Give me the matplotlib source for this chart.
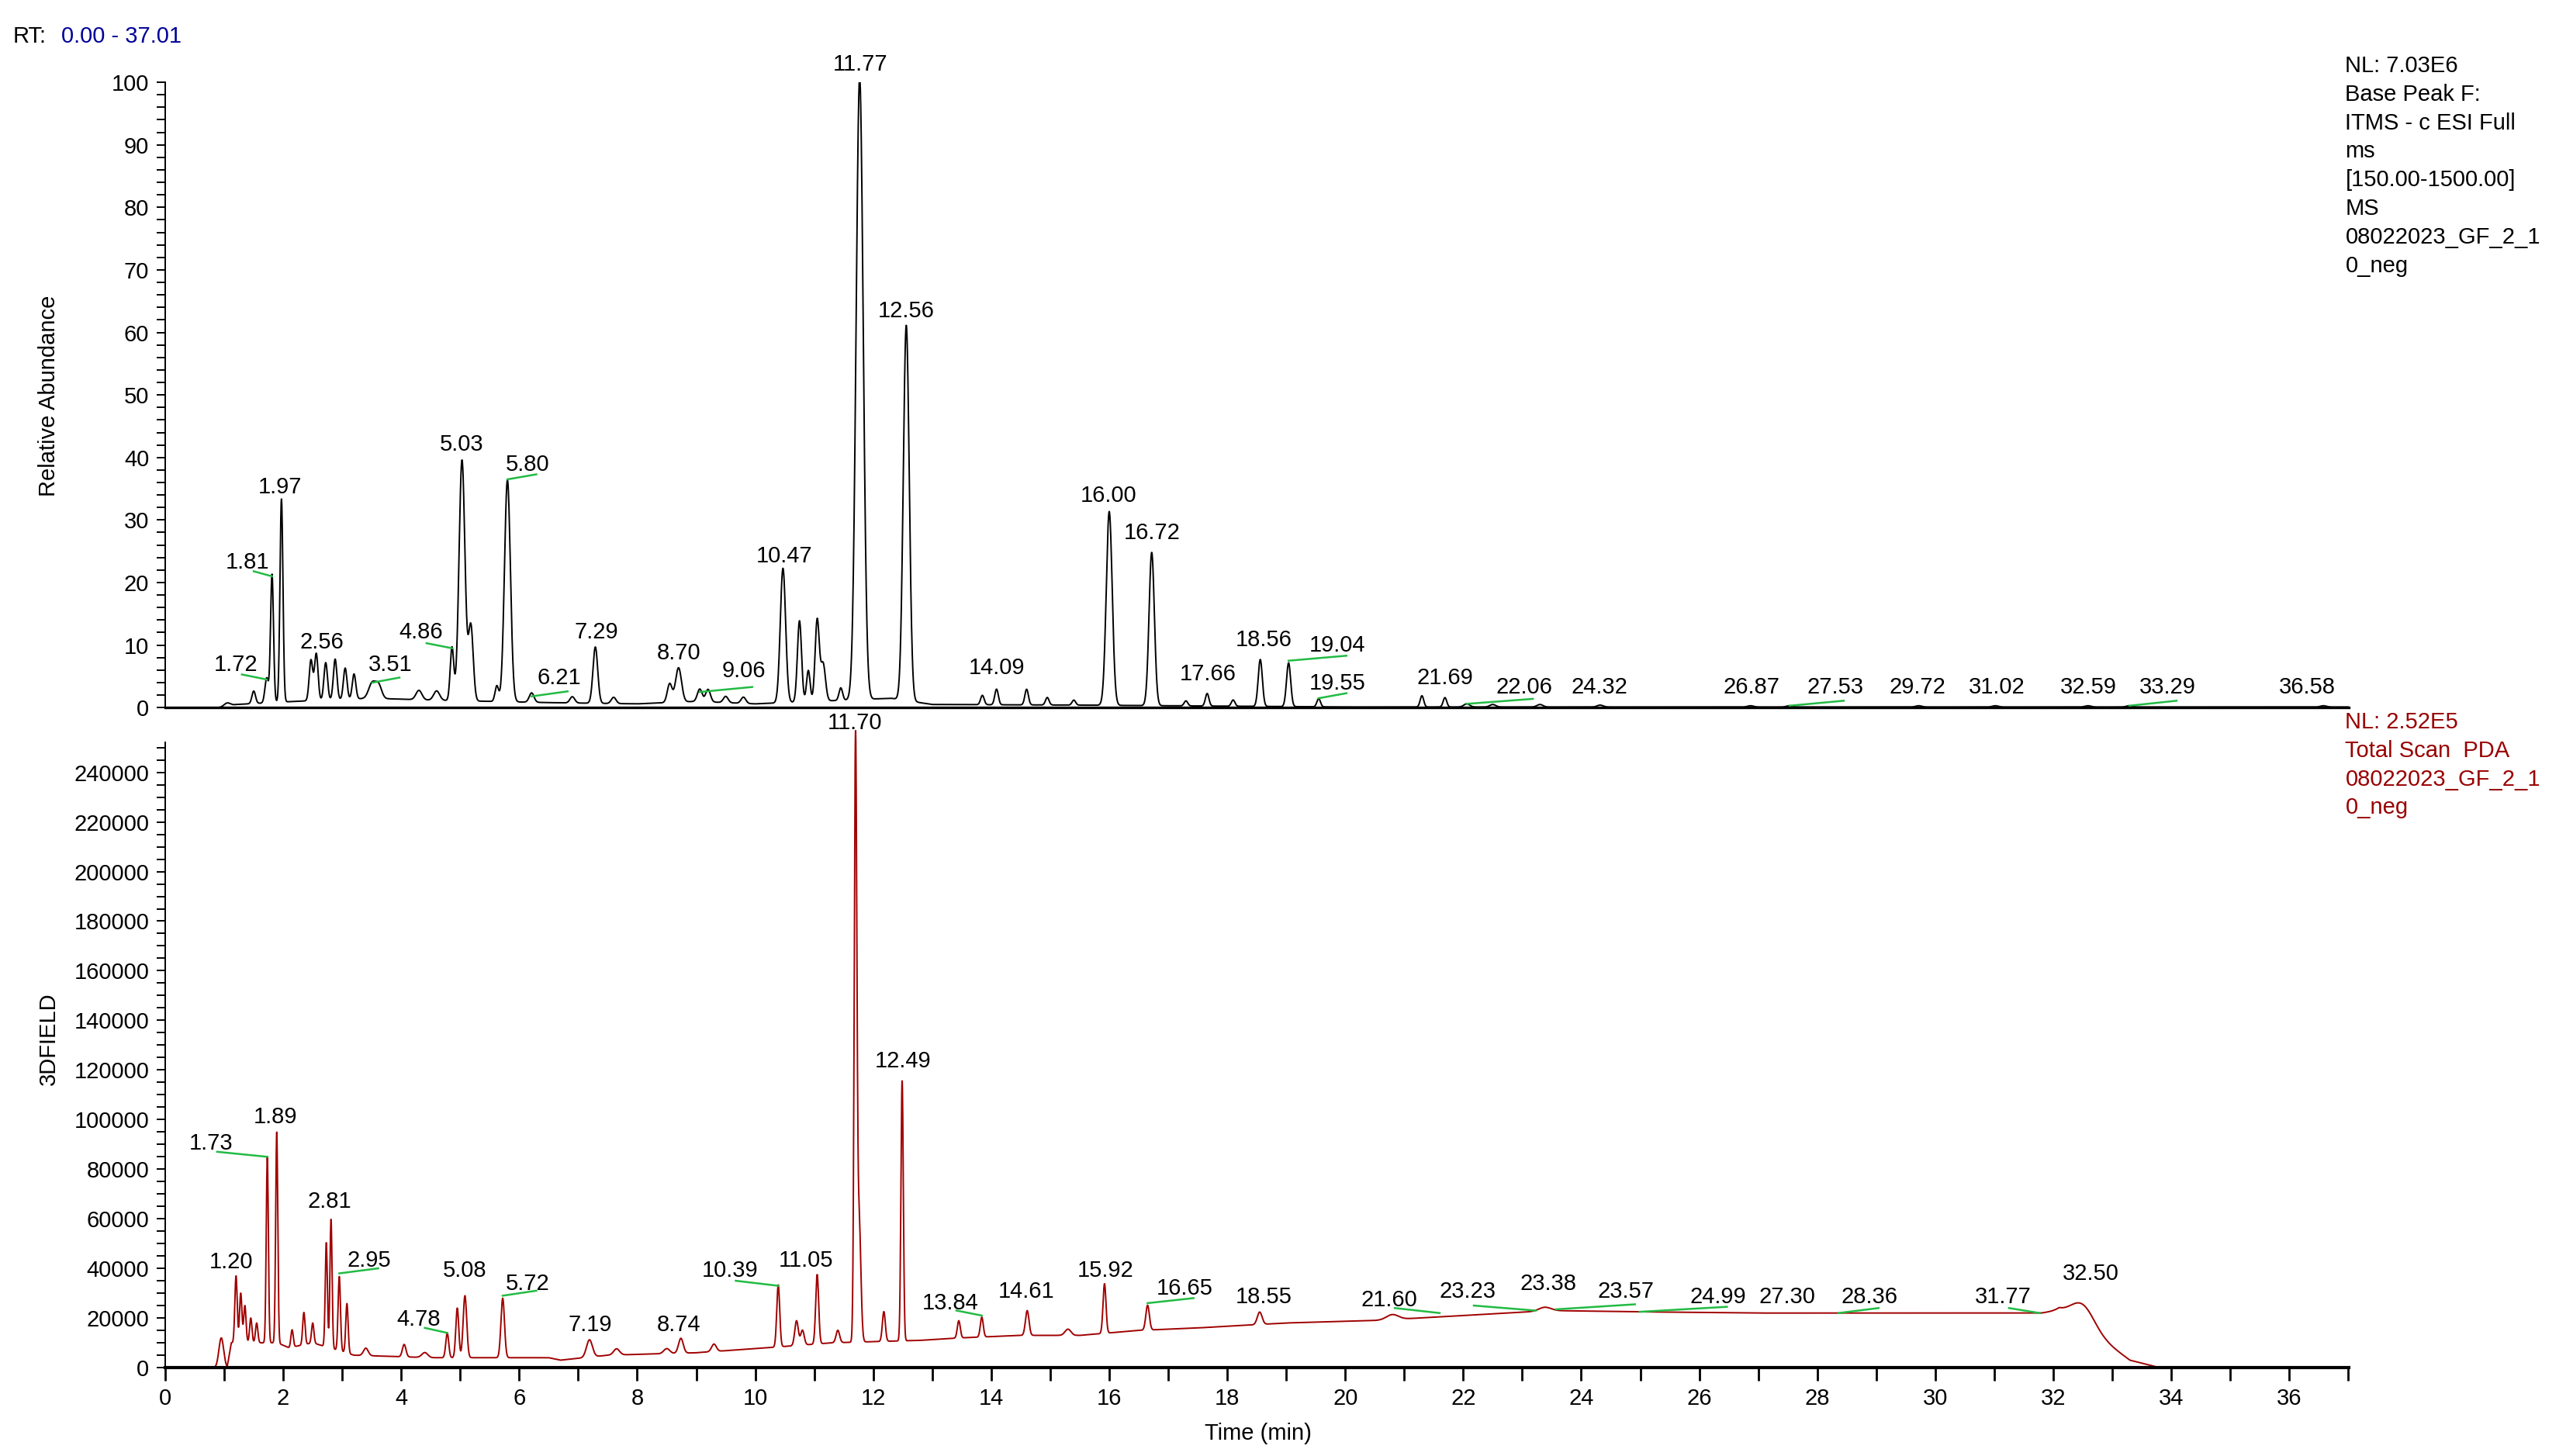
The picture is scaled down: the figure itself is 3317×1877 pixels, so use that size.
import numpy as np
import matplotlib
matplotlib.use("Agg")
import matplotlib.pyplot as plt
from matplotlib.ticker import MultipleLocator

plt.rcParams['font.family'] = ['Liberation Sans', 'DejaVu Sans']

# ---------------- data: top (MS base peak, relative abundance) ----------------
ms_base_rt = [0, 0.9, 1.2, 2.2, 3.5, 4.5, 6.5, 8.0, 9.0, 10.0, 12.3, 13.0, 15.5, 17.0, 20.0, 21.0, 37.01]
ms_base_val = [0, 0, 0.5, 1.0, 1.5, 1.2, 0.8, 0.6, 1.0, 0.6, 1.5, 0.5, 0.4, 0.3, 0.1, 0.1, 0.1]
ms_peak_rt = [1.05, 1.5, 1.72, 1.81, 1.97, 2.47, 2.56, 2.72, 2.88, 3.05, 3.2, 3.51, 3.62, 4.3, 4.6, 4.86,
              5.03, 5.18, 5.62, 5.80, 6.21, 6.9, 7.29, 7.6, 8.55, 8.70, 9.06, 9.2, 9.5, 9.8, 10.47, 10.75,
              10.9, 11.05, 11.15, 11.45, 11.77, 12.56, 13.85, 14.09, 14.6, 14.95, 15.4, 16.00, 16.72,
              17.3, 17.66, 18.1, 18.56, 19.04, 19.55, 21.3, 21.69, 22.06, 22.5, 23.3, 24.32, 26.87,
              27.53, 29.72, 31.02, 32.59, 33.29, 36.58]
ms_peak_h = [0.5, 2.0, 4.0, 20.5, 32.5, 6.5, 7.5, 6.0, 6.5, 5.0, 4.0, 2.5, 2.0, 1.5, 1.5, 8.5,
             38.5, 12.0, 2.5, 35.5, 1.5, 1.0, 9.0, 1.0, 3.0, 5.5, 2.0, 2.0, 1.0, 1.0, 21.5, 13.0,
             5.0, 13.0, 6.0, 2.0, 99.5, 60.0, 1.5, 2.5, 2.5, 1.2, 0.8, 31.0, 24.5,
             0.8, 2.0, 1.0, 7.5, 7.0, 1.3, 1.8, 1.5, 0.5, 0.4, 0.4, 0.3, 0.2,
             0.2, 0.2, 0.2, 0.2, 0.2, 0.2]
ms_peak_w = [0.05, 0.03, 0.03, 0.025, 0.025, 0.03, 0.03, 0.03, 0.03, 0.03, 0.03, 0.06, 0.05, 0.05, 0.05, 0.03,
             0.05, 0.04, 0.03, 0.05, 0.04, 0.04, 0.04, 0.04, 0.04, 0.05, 0.04, 0.04, 0.04, 0.04, 0.045, 0.035,
             0.03, 0.035, 0.04, 0.03, 0.06, 0.05, 0.03, 0.03, 0.03, 0.03, 0.03, 0.05, 0.045,
             0.03, 0.03, 0.03, 0.035, 0.035, 0.03, 0.03, 0.03, 0.05, 0.05, 0.05, 0.05, 0.05,
             0.05, 0.05, 0.05, 0.05, 0.05, 0.05]
ms_label_text = ["1.72", "1.81", "1.97", "2.56", "3.51", "4.86", "5.03", "5.80", "6.21", "7.29", "8.70",
                 "9.06", "10.47", "11.77", "12.56", "14.09", "16.00", "16.72", "17.66", "18.56", "19.04",
                 "19.55", "21.69", "22.06", "24.32", "26.87", "27.53", "29.72", "31.02", "32.59", "33.29", "36.58"]
ms_label_x = [1.20, 1.40, 1.95, 2.65, 3.82, 4.33, 5.02, 6.14, 6.67, 7.31, 8.71, 9.80, 10.49, 11.78, 12.56,
              14.09, 15.99, 16.72, 17.67, 18.62, 19.87, 19.87, 21.69, 23.03, 24.31, 26.88, 28.30, 29.70,
              31.04, 32.60, 33.94, 36.31]
ms_label_y = [6.8, 23.2, 35.3, 10.5, 6.8, 12.1, 42.1, 38.9, 4.7, 12.1, 8.7, 5.8, 24.2, 102.9, 63.4,
              6.3, 33.9, 27.9, 5.3, 10.8, 10.0, 3.9, 4.7, 3.2, 3.2, 3.2, 3.2, 3.2, 3.2, 3.2, 3.2, 3.2]
ms_label_peak_y = [4.5, 21.0, 33.0, 8.0, 4.0, 9.5, 39.5, 36.5, 1.8, 9.5, 6.0, 2.5, 22.0, 100, 61.0,
                   3.0, 31.5, 25.0, 2.0, 8.0, 7.5, 1.5, 1.5, 0.6, 0.4, 0.3, 0.3, 0.3, 0.3, 0.3, 0.3, 0.3]

# ---------------- data: bottom (PDA total scan) ----------------
pda_base_rt = [0, 0.8, 1.05, 1.12, 1.9, 2.1, 2.5, 3.2, 4.5, 6.5, 6.7, 7.5, 9.0, 10.2, 11.3, 12.8, 13.5,
               14.5, 15.5, 16.5, 17.5, 19.0, 20.5, 22.0, 23.5, 25.0, 27.0, 31.8, 32.1, 32.9, 33.3, 33.8, 37.01]
pda_base_val = [0, 0, 0, 10000, 10000, 8000, 10000, 5000, 4000, 4000, 3000, 5000, 6000, 8000, 10000, 11000,
                12000, 13000, 13000, 15000, 16000, 18000, 19000, 21000, 23000, 22500, 22000, 22000, 23000,
                10000, 3000, 0, 0]
pda_peak_rt = [0.95, 1.20, 1.28, 1.35, 1.45, 1.55, 1.73, 1.89, 2.15, 2.35, 2.50, 2.73, 2.81, 2.95, 3.08, 3.40,
               4.05, 4.40, 4.78, 4.95, 5.08, 5.72, 7.19, 7.65, 8.50, 8.74, 9.30, 10.39, 10.70, 10.80, 11.05,
               11.40, 11.70, 11.76, 12.18, 12.49, 13.45, 13.84, 14.61, 15.30, 15.92, 16.65, 18.55, 20.80,
               23.38, 32.50]
pda_peak_h = [12000, 27000, 20000, 15000, 10000, 8000, 75000, 85000, 7000, 13000, 8000, 42000, 52000, 30000,
              20000, 3000, 5000, 2000, 10000, 20000, 25000, 24000, 7000, 2500, 2000, 6000, 3000, 25000, 10000,
              6000, 28000, 5000, 240000, 50000, 12000, 105000, 7000, 8000, 10000, 2500, 20000, 10000, 5000,
              2000, 1500, 9000]
pda_peak_w = [0.04, 0.02, 0.02, 0.02, 0.02, 0.02, 0.018, 0.018, 0.02, 0.02, 0.02, 0.018, 0.018, 0.02,
              0.02, 0.04, 0.03, 0.05, 0.025, 0.025, 0.03, 0.03, 0.05, 0.05, 0.05, 0.04, 0.04, 0.025, 0.03,
              0.03, 0.025, 0.03, 0.022, 0.03, 0.025, 0.02, 0.025, 0.025, 0.03, 0.05, 0.025, 0.03, 0.04,
              0.1, 0.1, 0.2]
pda_label_text = ["1.20", "1.73", "1.89", "2.81", "2.95", "4.78", "5.08", "5.72", "7.19", "8.74", "10.39",
                  "11.05", "11.70", "12.49", "13.84", "14.61", "15.92", "16.65", "18.55", "21.60", "23.23",
                  "23.38", "23.57", "24.99", "27.30", "28.36", "31.77", "32.50"]
pda_label_x = [1.12, 0.78, 1.87, 2.79, 3.46, 4.30, 5.08, 6.14, 7.20, 8.71, 9.57, 10.86, 11.69, 12.50, 13.31,
               14.60, 15.94, 17.28, 18.62, 20.74, 22.08, 23.44, 24.76, 26.32, 27.49, 28.89, 31.15, 32.63]
pda_label_y = [42500, 90400, 101000, 67100, 43200, 19300, 39200, 33900, 17300, 17300, 39200, 43200, 260000,
               123600, 25900, 30600, 39200, 31900, 28600, 27300, 30600, 33900, 30600, 28600, 28600, 28600,
               28600, 37900]
pda_label_peak_y = [37000, 85000, 95000, 62000, 38000, 14000, 33000, 29000, 12000, 12000, 33000, 38000,
                    250000, 117000, 21000, 24000, 33000, 26000, 24000, 22000, 23000, 24000, 23500, 22500,
                    22000, 22000, 22000, 31000]

RT_MAX = 37.01


def trace(base_rt, base_val, prt, ph, pw, x):
    y = np.interp(x, base_rt, base_val).astype(float)
    for r, h, w in zip(prt, ph, pw):
        y += h * np.exp(-0.5 * ((x - r) / w) ** 2)
    return y


x = np.linspace(0, RT_MAX, 12000)
y_ms = trace(ms_base_rt, ms_base_val, ms_peak_rt, ms_peak_h, ms_peak_w, x)
y_pda = trace(pda_base_rt, pda_base_val, pda_peak_rt, pda_peak_h, pda_peak_w, x)

W, H = 3317, 1877
fig = plt.figure(figsize=(W / 200, H / 200), dpi=200)
FS = 10.5
GREEN = "#22bb44"
RED = "#a00000"

AXL, AXR = 213, 3028
ax1 = fig.add_axes([AXL / W, 0.514, (AXR - AXL) / W, 0.9435 - 0.514])
ax2 = fig.add_axes([AXL / W, 0.0607, (AXR - AXL) / W, 0.490 - 0.0607])


def green_lines(ax, peak_rt_text, lx, ly, py, yscale):
    for t, a, b, p in zip(peak_rt_text, lx, ly, py):
        r = float(t)
        if abs(a - r) > 0.3:
            end = a + 0.1 if a < r else a + 0.15
            ax.plot([end, r], [p + 0.008 * yscale, p], color=GREEN, lw=0.9, clip_on=False)


# top
ax1.plot(x, y_ms, color="black", lw=0.7)
ax1.set_xlim(0, RT_MAX)
ax1.set_ylim(0, 100)
for t, a, b in zip(ms_label_text, ms_label_x, ms_label_y):
    ax1.text(a, b, t, ha="center", va="center", fontsize=FS, clip_on=False)
green_lines(ax1, ms_label_text, ms_label_x, ms_label_y, ms_label_peak_y, 100)
ax1.yaxis.set_major_locator(MultipleLocator(10))
ax1.yaxis.set_minor_locator(MultipleLocator(2))
ax1.tick_params(axis="y", which="major", length=4, width=0.7, labelsize=FS)
ax1.tick_params(axis="y", which="minor", length=4, width=0.7)
ax1.tick_params(axis="x", which="both", length=0, labelbottom=False)
for s in ["top", "right"]:
    ax1.spines[s].set_visible(False)
ax1.spines["left"].set_linewidth(0.7)
ax1.spines["bottom"].set_linewidth(1.2)

# bottom
ax2.plot(x, y_pda, color=RED, lw=0.7, clip_on=False)
ax2.set_xlim(0, RT_MAX)
ax2.set_ylim(0, 252000)
for t, a, b in zip(pda_label_text, pda_label_x, pda_label_y):
    ax2.text(a, b, t, ha="center", va="center", fontsize=FS, clip_on=False)
green_lines(ax2, pda_label_text, pda_label_x, pda_label_y, pda_label_peak_y, 252000)
ax2.yaxis.set_major_locator(MultipleLocator(20000))
ax2.yaxis.set_minor_locator(MultipleLocator(5000))
ax2.xaxis.set_major_locator(MultipleLocator(2))
ax2.xaxis.set_minor_locator(MultipleLocator(1))
ax2.tick_params(axis="y", which="both", length=4, width=0.7, labelsize=FS)
ax2.tick_params(axis="x", which="both", length=6, width=1.0, labelsize=FS)
for s in ["top", "right"]:
    ax2.spines[s].set_visible(False)
ax2.spines["left"].set_linewidth(0.7)
ax2.spines["bottom"].set_linewidth(1.5)

# texts
fig.text(0.0051, 0.975, "RT:", fontsize=FS, va="center", ha="left")
fig.text(0.0237, 0.975, "0.00 - 37.01", fontsize=FS, va="center", ha="left", color="#000099")
fig.text(0.019, 0.728, "Relative Abundance", rotation=90, fontsize=FS, ha="center", va="center")
fig.text(0.019, 0.2865, "3DFIELD", rotation=90, fontsize=FS, ha="center", va="center")
fig.text(0.489, 0.0157, "Time (min)", fontsize=FS, ha="center", va="center")

top_lines = ["NL: 7.03E6", "Base Peak F:", "ITMS - c ESI Full", "ms", "[150.00-1500.00]", "MS",
             "08022023_GF_2_1", "0_neg"]
for i, s in enumerate(top_lines):
    fig.text(0.9115, 0.9547 - i * 0.0196, s, fontsize=FS, va="center", ha="left")
bot_lines = ["NL: 2.52E5", "Total Scan  PDA", "08022023_GF_2_1", "0_neg"]
for i, s in enumerate(bot_lines):
    fig.text(0.9115, 0.504 - i * 0.0196, s, fontsize=FS, va="center", ha="left", color="#990000")

fig.savefig("out.png", dpi=200)
